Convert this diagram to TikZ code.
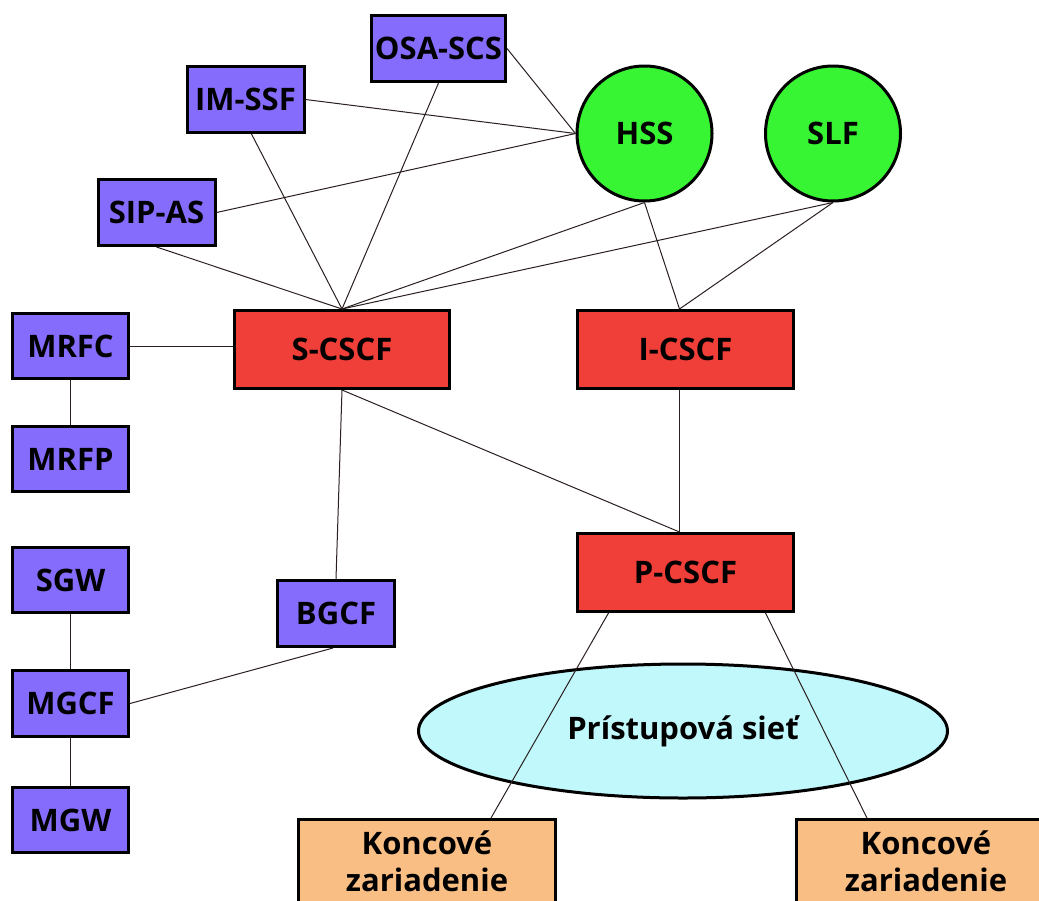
\documentclass[tikz,border=0pt]{standalone}
\usepackage{fontspec}
\setmainfont{Open Sans}
\usetikzlibrary{shapes.geometric}
\definecolor{fnpurple}{RGB}{134,108,252}
\definecolor{cscfred}{RGB}{240,62,56}
\definecolor{dbgreen}{RGB}{56,245,52}
\definecolor{netcyan}{RGB}{192,248,252}
\definecolor{ueorange}{RGB}{248,190,132}
\definecolor{wire}{RGB}{42,30,30}
\begin{document}
\begin{tikzpicture}[x=1pt,y=-1pt,
  base/.style={draw=black, line width=3pt, inner sep=0pt, align=center,
    font=\fontsize{31}{37}\selectfont\bfseries},
  fnbox/.style={base, rectangle, fill=fnpurple, minimum width=117pt, minimum height=66pt},
  cscf/.style={base, rectangle, fill=cscfred, minimum width=216pt, minimum height=78pt},
  db/.style={base, circle, fill=dbgreen, minimum size=135pt},
  net/.style={base, ellipse, fill=netcyan, minimum width=529pt, minimum height=134pt},
  ue/.style={base, rectangle, fill=ueorange, minimum width=257pt, minimum height=83pt},
  link/.style={draw=wire, line width=1pt}]
\useasboundingbox (0,0) rectangle (1039,900);
\clip (0,0) rectangle (1039,900);

\node[fnbox, minimum width=134pt] (osa) at (438.5,48.5) {OSA-SCS};
\node[fnbox] (imssf) at (245.5,99.5) {IM-SSF};
\node[fnbox] (sipas) at (156.5,212.5) {SIP-AS};
\node[db] (hss) at (644.5,133.5) {HSS};
\node[db] (slf) at (833,133.5) {SLF};
\node[cscf, minimum width=215pt] (scscf) at (342,349.5) {S-CSCF};
\node[cscf] (icscf) at (685.5,349.5) {I-CSCF};
\node[cscf] (pcscf) at (685.5,572.5) {P-CSCF};
\node[fnbox, minimum width=116pt, minimum height=65pt] (mrfc) at (70.5,346) {MRFC};
\node[fnbox, minimum width=116pt, minimum height=65pt] (mrfp) at (70.5,459) {MRFP};
\node[fnbox, minimum width=116pt, minimum height=65pt] (sgw) at (70.5,580) {SGW};
\node[fnbox, minimum width=116pt] (mgcf) at (70.5,703.5) {MGCF};
\node[fnbox, minimum width=116pt, minimum height=65pt] (mgw) at (70.5,820) {MGW};
\node[fnbox] (bgcf) at (336,613.5) {BGCF};
\node[net] (access) at (683,731) {Prístupová sieť};
\node[ue] (uel) at (427,861) {Koncové\\zariadenie};
\node[ue, minimum width=259pt] (uer) at (926,861) {Koncové\\zariadenie};

\path[link] (osa.east) -- (hss.west);
\path[link] (imssf.east) -- (hss.west);
\path[link] (sipas.east) -- (hss.west);
\path[link] (sipas.south) -- (scscf.north);
\path[link] ([xshift=6pt]imssf.south) -- (scscf.north);
\path[link] (osa.south) -- (scscf.north);
\path[link] (hss.south) -- (scscf.north);
\path[link] (slf.south) -- (scscf.north);
\path[link] (hss.south) -- ([xshift=-6pt]icscf.north);
\path[link] (slf.south) -- ([xshift=-6pt]icscf.north);
\path[link] (mrfc.east) -- (mrfc.east -| scscf.west);
\path[link] (mrfc.south) -- (mrfp.north);
\path[link] (scscf.south) -- (bgcf.north);
\path[link] (scscf.south) -- ([xshift=-6pt]pcscf.north);
\path[link] ([xshift=-6pt]icscf.south) -- ([xshift=-6pt]pcscf.north);
\path[link] (sgw.south) -- (mgcf.north);
\path[link] (mgcf.south) -- (mgw.north);
\path[link] (mgcf.east) -- ([xshift=-3pt]bgcf.south);
\path[link] ([xshift=-77pt]pcscf.south) -- ([xshift=64pt]uel.north);
\path[link] ([xshift=80pt]pcscf.south) -- ([xshift=-59pt]uer.north);
\end{tikzpicture}
\end{document}
